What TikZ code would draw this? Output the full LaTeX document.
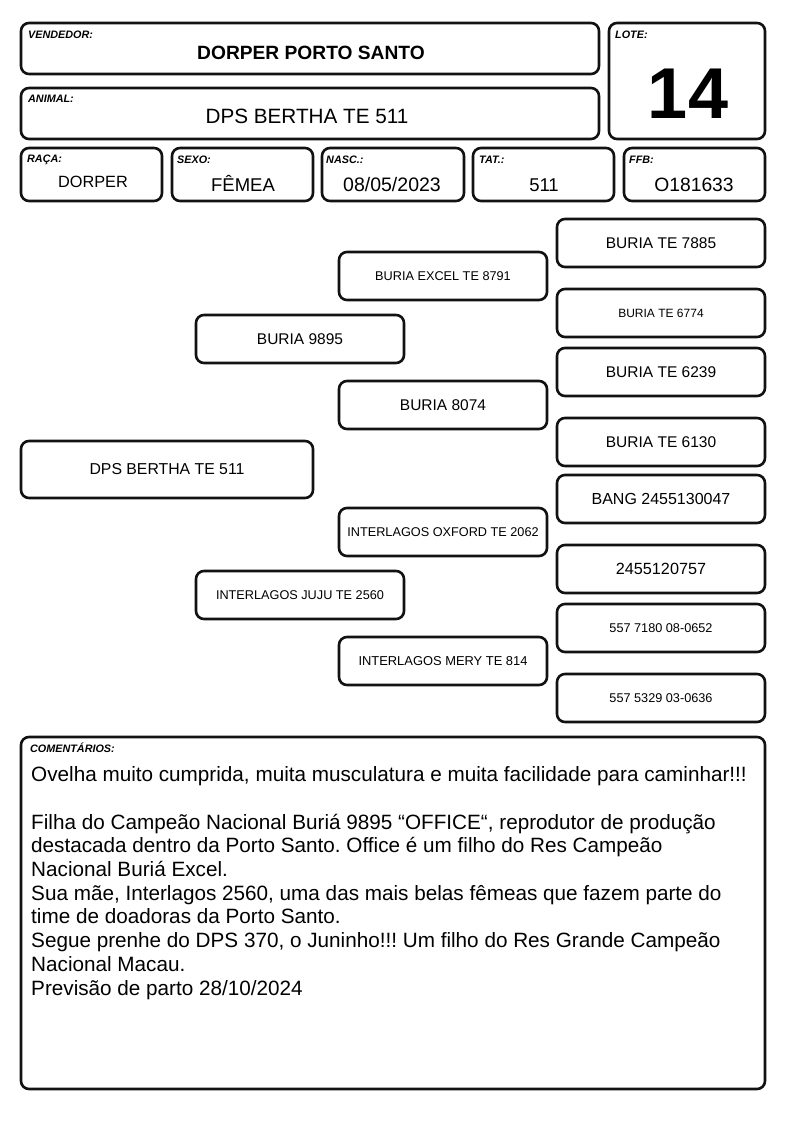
\documentclass[tikz,border=0pt]{standalone}
\usepackage{fontspec}
\setmainfont{Liberation Sans}
\newcommand{\fsz}[1]{\fontsize{#1}{#1}\selectfont}
\frenchspacing
\begin{document}
\begin{tikzpicture}[x=1pt,y=-1pt,
  box/.style={draw=black!93, line width=2.6pt, rounded corners=8pt, inner sep=0pt, outer sep=0pt},
  hbox/.style={box},
  pbox/.style={box, minimum width=208, minimum height=48, align=center},
  lbl/.style={anchor=base west, inner sep=0pt, font=\fsz{10.8}\bfseries\itshape},
  val/.style={anchor=base, inner sep=0pt, font=\fsz{18.5}},
  cline/.style={anchor=base west, inner sep=0pt, font=\fsz{20.7}}]
\useasboundingbox (0,0) rectangle (794,1123);
% ---------- header ----------
\node[hbox, minimum width=578, minimum height=51] (vend) at (310,48.5) {};
\node[lbl] (vendl) at (28,39) {VENDEDOR:};
\node[val, font=\fsz{19.2}\bfseries] (vendv) at (311,60) {DORPER PORTO SANTO};

\node[hbox, minimum width=578, minimum height=51] (anim) at (310,113.5) {};
\node[lbl] (animl) at (28,102.7) {ANIMAL:};
\node[val, font=\fsz{20.7}] (animv) at (307,123.3) {DPS BERTHA TE 511};

\node[hbox, minimum width=156, minimum height=116] (lote) at (687,81) {};
\node[lbl] (lotel) at (615,39) {LOTE:};
\node[val, font=\fsz{72}\bfseries] (lotev) at (688,119) {14};

\node[hbox, minimum width=141, minimum height=53] (raca) at (91.5,174.5) {};
\node[lbl] (racal) at (27,162.7) {RAÇA:};
\node[val, font=\fsz{16.3}] (racav) at (93,187.7) {DORPER};

\node[hbox, minimum width=141, minimum height=53] (sexo) at (242.5,174.5) {};
\node[lbl] (sexol) at (177,164) {SEXO:};
\node[val] (sexov) at (243,191.7) {FÊMEA};

\node[hbox, minimum width=142, minimum height=53] (nasc) at (393,174.5) {};
\node[lbl] (nascl) at (326,164) {NASC.:};
\node[val, font=\fsz{19.5}] (nascv) at (392,191.7) {08/05/2023};

\node[hbox, minimum width=141, minimum height=53] (tat) at (543.5,174.5) {};
\node[lbl] (tatl) at (479,164) {TAT.:};
\node[val] (tatv) at (544,191.7) {511};

\node[hbox, minimum width=141, minimum height=53] (ffb) at (694.5,174.5) {};
\node[lbl] (ffbl) at (629,164) {FFB:};
\node[val, font=\fsz{19.3}] (ffbv) at (694,191.7) {O181633};

% ---------- pedigree ----------
\node[pbox, minimum width=292, minimum height=57, font=\fsz{15.8}] (p1) at (167,469.5) {DPS BERTHA TE 511};

\node[pbox, font=\fsz{15.5}] (p2a) at (300,339) {BURIA 9895};
\node[pbox, font=\fsz{12.7}] (p2b) at (300,595) {INTERLAGOS JUJU TE 2560};

\node[pbox, font=\fsz{12.7}] (p3a) at (443,276) {BURIA EXCEL TE 8791};
\node[pbox, font=\fsz{15.5}] (p3b) at (443,405) {BURIA 8074};
\node[pbox, font=\fsz{12.7}] (p3c) at (443,532) {INTERLAGOS OXFORD TE 2062};
\node[pbox, font=\fsz{12.9}] (p3d) at (443,661) {INTERLAGOS MERY TE 814};

\node[pbox, font=\fsz{15.5}] (p4a) at (661,243) {BURIA TE 7885};
\node[pbox, font=\fsz{12}] (p4b) at (661,313) {BURIA TE 6774};
\node[pbox, font=\fsz{15.5}] (p4c) at (661,372) {BURIA TE 6239};
\node[pbox, font=\fsz{15.5}] (p4d) at (661,442) {BURIA TE 6130};
\node[pbox, font=\fsz{16}] (p4e) at (661,499) {BANG 2455130047};
\node[pbox, font=\fsz{16.2}] (p4f) at (661,569) {2455120757};
\node[pbox, font=\fsz{12.7}] (p4g) at (661,628) {557 7180 08-0652};
\node[pbox, font=\fsz{12.7}] (p4h) at (661,698) {557 5329 03-0636};

% ---------- comments ----------
\node[hbox, minimum width=744, minimum height=352] (com) at (393,913) {};
\node[lbl] (coml) at (30,752) {COMENTÁRIOS:};
\node[cline] (c1) at (31,781) {Ovelha muito cumprida, muita musculatura e muita facilidade para caminhar!!!};
\node[cline] (c2) at (31,829) {Filha do Campeão Nacional Buriá 9895 “OFFICE“, reprodutor de produção};
\node[cline] (c3) at (31,852.5) {destacada dentro da Porto Santo. Office é um filho do Res Campeão};
\node[cline] (c4) at (31,876.3) {Nacional Buriá Excel.};
\node[cline] (c5) at (31,900) {Sua mãe, Interlagos 2560, uma das mais belas fêmeas que fazem parte do};
\node[cline] (c6) at (31,923.8) {time de doadoras da Porto Santo.};
\node[cline] (c7) at (31,947.8) {Segue prenhe do DPS 370, o Juninho!!! Um filho do Res Grande Campeão};
\node[cline] (c8) at (31,971.8) {Nacional Macau.};
\node[cline] (c9) at (31,995.8) {Previsão de parto 28/10/2024};
\end{tikzpicture}
\end{document}
